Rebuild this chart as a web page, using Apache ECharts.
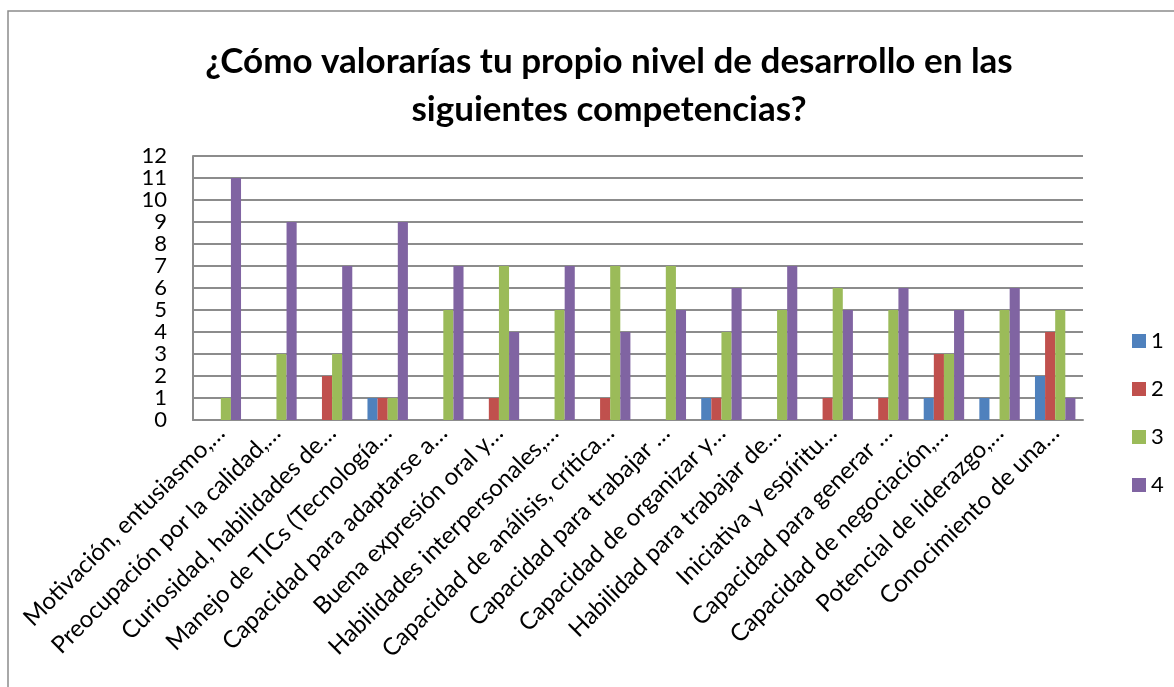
<!DOCTYPE html>
<html>
<head>
<meta charset="utf-8">
<script src="https://cdn.jsdelivr.net/npm/echarts@6/dist/echarts.min.js"></script>
<style>
html,body{margin:0;padding:0;background:#fff;}
#c{width:1174px;height:687px;}
</style>
</head>
<body>
<div id="c"></div>
<script>
const titleText = "¿Cómo valorarías tu propio nivel de desarrollo en las\nsiguientes competencias?";
const categories = [
  "Motivación, entusiasmo,…",
  "Preocupación por la calidad,…",
  "Curiosidad, habilidades de…",
  "Manejo de TICs (Tecnología…",
  "Capacidad para adaptarse a…",
  "Buena expresión oral y…",
  "Habilidades interpersonales,…",
  "Capacidad de análisis, crítica…",
  "Capacidad para trabajar …",
  "Capacidad de organizar y…",
  "Habilidad para trabajar de…",
  "Iniciativa y espíritu…",
  "Capacidad para generar …",
  "Capacidad de negociación,…",
  "Potencial de liderazgo,…",
  "Conocimiento de una…"
];
const seriesNames = ["1", "2", "3", "4"];
const values1 = [0, 0, 0, 1, 0, 0, 0, 0, 0, 1, 0, 0, 0, 1, 1, 2];
const values2 = [0, 0, 2, 1, 0, 1, 0, 1, 0, 1, 0, 1, 1, 3, 0, 4];
const values3 = [1, 3, 3, 1, 5, 7, 5, 7, 7, 4, 5, 6, 5, 3, 5, 5];
const values4 = [11, 9, 7, 9, 7, 4, 7, 4, 5, 6, 7, 5, 6, 5, 6, 1];
const colors = ["#4F81BD", "#C0504D", "#9BBB59", "#8064A2"];

const FONT = "Lato";
const allValues = [values1, values2, values3, values4];

const chart = echarts.init(document.getElementById('c'), null, {renderer: 'canvas'});
chart.setOption({
  animation: false,
  backgroundColor: '#ffffff',
  color: colors,
  graphic: [{
    type: 'rect',
    shape: {x: 8, y: 11, width: 1220, height: 720},
    style: {fill: 'none', stroke: '#8c8c8c', lineWidth: 1.5},
    silent: true, z: -10
  }],
  title: {
    text: titleText,
    left: 604,
    textAlign: 'center',
    top: 33,
    textStyle: {fontFamily: FONT, fontWeight: 'bold', fontSize: 35, lineHeight: 48, color: '#000'}
  },
  legend: {
    orient: 'vertical',
    left: 1127,
    top: 325,
    itemWidth: 14,
    itemHeight: 14,
    itemGap: 26,
    icon: 'rect',
    textStyle: {fontFamily: FONT, fontSize: 22, color: '#000'},
    data: seriesNames
  },
  grid: {left: 193, top: 156, right: 91, bottom: 267, containLabel: false},
  xAxis: {
    type: 'category',
    data: categories,
    axisLine: {lineStyle: {color: '#8c8c8c', width: 2}},
    axisTick: {show: false},
    axisLabel: {rotate: 45, interval: 0, margin: 9, padding: [36, 0, 0, 0], fontFamily: FONT, fontSize: 24, color: '#000'}
  },
  yAxis: {
    type: 'value',
    min: 0, max: 12, interval: 1,
    axisLine: {show: true, lineStyle: {color: '#8c8c8c', width: 2}},
    axisTick: {show: false},
    splitLine: {lineStyle: {color: '#8c8c8c', width: 2}},
    axisLabel: {margin: 26, fontFamily: FONT, fontSize: 22, color: '#000'}
  },
  series: seriesNames.map((n, i) => ({
    name: n,
    type: 'bar',
    data: allValues[i],
    barGap: '0%',
    barCategoryGap: '27.3%',
    itemStyle: {color: colors[i]}
  }))
});
</script>
</body>
</html>
